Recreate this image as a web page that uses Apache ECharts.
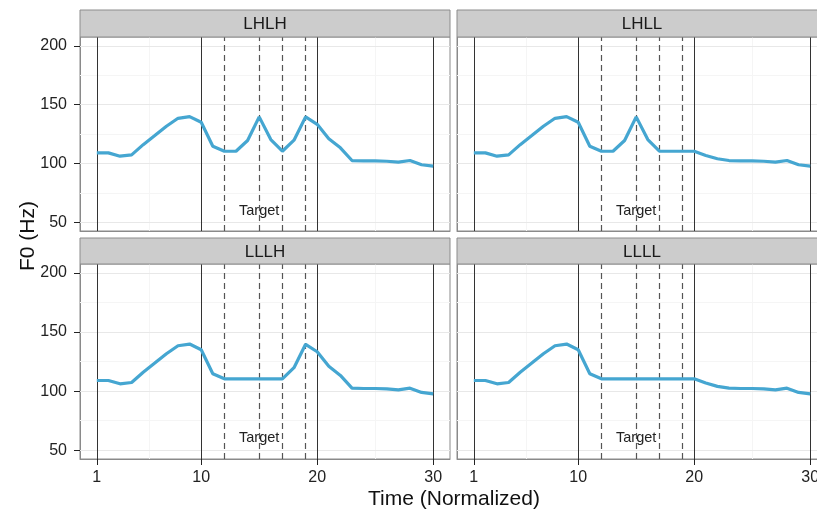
<!DOCTYPE html>
<html>
<head>
<meta charset="utf-8">
<script src="https://cdn.jsdelivr.net/npm/echarts@6/dist/echarts.min.js"></script>
<style>
html, body { margin: 0; padding: 0; background: #fff; }
#main { width: 817px; height: 512px; }
</style>
</head>
<body>
<div id="main"></div>
<script>
// time steps (normalized)
const time = [1,2,3,4,5,6,7,8,9,10,11,12,13,14,15,16,17,18,19,20,21,22,23,24,25,26,27,28,29,30];

// F0 contours, one per condition
const lhlh = [109,109,106.2,107.3,116,123.7,131.6,138.4,139.8,135,114.7,110.4,110.4,119.5,139.6,120.3,110.4,119.8,139.6,133.3,121,113.3,102.5,102.2,102.2,101.9,101.1,102.5,98.9,97.7];
const lhll = [109,109,106.2,107.3,116,123.7,131.6,138.4,139.8,135,114.7,110.4,110.4,119.5,139.6,120.3,110.4,110.4,110.4,110.4,106.8,104,102.5,102.2,102.2,101.9,101.1,102.5,98.9,97.7];
const lllh = [109,109,106.2,107.3,116,123.7,131.6,138.4,139.8,135,114.7,110.4,110.4,110.4,110.4,110.4,110.4,119.8,139.6,133.3,121,113.3,102.5,102.2,102.2,101.9,101.1,102.5,98.9,97.7];
const llll = [109,109,106.2,107.3,116,123.7,131.6,138.4,139.8,135,114.7,110.4,110.4,110.4,110.4,110.4,110.4,110.4,110.4,110.4,106.8,104,102.5,102.2,102.2,101.9,101.1,102.5,98.9,97.7];

const panelNames = ['LHLH', 'LHLL', 'LLLH', 'LLLL'];
const panelData = [lhlh, lhll, lllh, llll];

const xTicks = [1, 10, 20, 30];
const yTicks = [50, 100, 150, 200];
const xMinor = [5.5, 15, 25];
const yMinor = [75, 125, 175];
const boundaryLines = [1, 10, 20, 30];
const targetLines = [12, 15, 17, 19];
const targetLabel = { x: 15, y: 60, text: 'Target' };

const FONT = 'Liberation Sans, Arial, sans-serif';

var chartDom = document.getElementById('main');
var myChart = echarts.init(chartDom);

// panel boxes
const grids = [
  { left: 80, top: 37, width: 370, height: 194 },
  { left: 457, top: 37, width: 370, height: 194 },
  { left: 80, top: 264, width: 370, height: 195 },
  { left: 457, top: 264, width: 370, height: 195 }
];

const xAxes = [], yAxes = [], series = [], graphics = [];

grids.forEach(function (g, i) {
  const bottomRow = i >= 2;
  const leftCol = i % 2 === 0;

  xAxes.push({
    type: 'value', gridIndex: i, min: -0.45, max: 31.45,
    axisLine: { show: true, onZero: false, lineStyle: { color: '#8a8a8a', width: 1 } },
    splitLine: { show: false },
    axisTick: { show: bottomRow, customValues: xTicks, length: 6, lineStyle: { color: '#222', width: 1 } },
    axisLabel: { show: bottomRow, customValues: xTicks, fontSize: 16, color: '#222', fontFamily: FONT, margin: 11 }
  });
  yAxes.push({
    type: 'value', gridIndex: i, min: 42.6, max: 207.5,
    axisLine: { show: true, onZero: false, lineStyle: { color: '#8a8a8a', width: 1 } },
    splitLine: { show: false },
    axisTick: { show: leftCol, customValues: yTicks, length: 6, lineStyle: { color: '#222', width: 1 } },
    axisLabel: { show: leftCol, customValues: yTicks, fontSize: 16, color: '#222', fontFamily: FONT, margin: 13 }
  });

  // background: grid lines + reference lines
  const mk = [];
  yMinor.forEach(v => mk.push({ yAxis: v, lineStyle: { color: '#f5f5f5', width: 1, type: 'solid' } }));
  xMinor.forEach(v => mk.push({ xAxis: v, lineStyle: { color: '#f5f5f5', width: 1, type: 'solid' } }));
  yTicks.forEach(v => mk.push({ yAxis: v, lineStyle: { color: '#e8e8e8', width: 1, type: 'solid' } }));
  boundaryLines.forEach(v => mk.push({ xAxis: v, lineStyle: { color: '#333', width: 1, type: 'solid' } }));
  targetLines.forEach(v => mk.push({ xAxis: v, lineStyle: { color: '#555', width: 1.2, type: [6, 4] } }));

  series.push({
    type: 'line', xAxisIndex: i, yAxisIndex: i, data: [], z: 1,
    markLine: { silent: true, z: 1, symbol: 'none', label: { show: false }, animation: false, data: mk },
    markPoint: {
      silent: true, z: 1, symbol: 'circle', symbolSize: 1, itemStyle: { color: 'rgba(0,0,0,0)' },
      label: { show: true, position: 'inside', formatter: targetLabel.text, color: '#222', fontSize: 14.5, fontFamily: FONT },
      data: [{ coord: [targetLabel.x, targetLabel.y] }]
    }
  });

  series.push({
    name: panelNames[i], type: 'line', xAxisIndex: i, yAxisIndex: i, z: 10,
    showSymbol: false, symbol: 'none',
    lineStyle: { color: '#45a6d1', width: 3.2 },
    data: time.map((t, k) => [t, panelData[i][k]])
  });

  // facet strip
  const stripTop = bottomRow ? 238 : 10;
  graphics.push({
    type: 'rect', silent: true, z: 10,
    shape: { x: g.left, y: stripTop, width: g.width, height: g.top - stripTop },
    style: { fill: '#cccccc', stroke: '#8c8c8c', lineWidth: 1 }
  });
  graphics.push({
    type: 'text', silent: true, z: 11,
    x: g.left + g.width / 2, y: stripTop + (g.top - stripTop) / 2 + 1,
    style: { text: panelNames[i], fontSize: 17, fill: '#1a1a1a', fontFamily: FONT, align: 'center', verticalAlign: 'middle' }
  });
});

// axis titles
graphics.push({
  type: 'text', silent: true, x: 454, y: 499,
  style: { text: 'Time (Normalized)', fontSize: 21, fill: '#111', fontFamily: FONT, align: 'center', verticalAlign: 'middle' }
});
graphics.push({
  type: 'text', silent: true, x: 28, y: 236, rotation: Math.PI / 2,
  style: { text: 'F0 (Hz)', fontSize: 21, fill: '#111', fontFamily: FONT, align: 'center', verticalAlign: 'middle' }
});

var option = {
  animation: false,
  backgroundColor: '#fff',
  grid: grids.map(g => Object.assign({ show: true, borderColor: '#8a8a8a', borderWidth: 1, backgroundColor: '#fff', outerBoundsMode: 'none' }, g)),
  xAxis: xAxes,
  yAxis: yAxes,
  series: series,
  graphic: graphics
};

option && myChart.setOption(option);
</script>
</body>
</html>
